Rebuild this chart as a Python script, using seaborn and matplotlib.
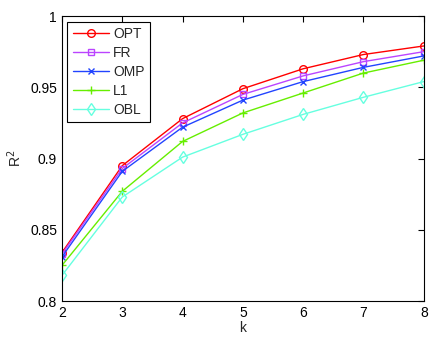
import pandas as pd
import seaborn as sns
import matplotlib.pyplot as plt

# values
k = [2, 3, 4, 5, 6, 7, 8]
opt = [0.834, 0.895, 0.928, 0.949, 0.963, 0.973, 0.979]
fr = [0.833, 0.893, 0.925, 0.945, 0.958, 0.968, 0.975]
omp = [0.831, 0.891, 0.922, 0.941, 0.954, 0.964, 0.972]
l1 = [0.825, 0.877, 0.912, 0.932, 0.946, 0.960, 0.969]
obl = [0.818, 0.873, 0.901, 0.917, 0.931, 0.943, 0.954]

names = ["OPT", "FR", "OMP", "L1", "OBL"]
colors = ["#FF0000", "#BB44FF", "#2244FF", "#66EE00", "#66FFE0"]
markers = ["o", "s", "x", "+", "d"]
msizes = [5.5, 5, 4.5, 6, 6]

sns.set_style("white")
plt.rcParams['font.family'] = ['Liberation Sans', 'DejaVu Sans']

fig = plt.figure(figsize=(4.36, 3.41), dpi=100)
ax = fig.add_axes([0.142, 0.117, 0.830, 0.836])

for name, vals, c, m, ms in zip(names, [opt, fr, omp, l1, obl], colors, markers, msizes):
    df = pd.DataFrame({"k": k, "r2": vals})
    sns.lineplot(data=df, x="k", y="r2", ax=ax, color=c, marker=m, markersize=ms,
                 markerfacecolor="none", markeredgecolor=c, markeredgewidth=1,
                 linewidth=1, label=name)

ax.set_xlim(2, 8)
ax.set_ylim(0.8, 1)
ax.set_xticks(k)
ax.set_yticks([0.8, 0.85, 0.9, 0.95, 1])
ax.set_yticklabels(["0.8", "0.85", "0.9", "0.95", "1"])
ax.tick_params(direction="in", length=4, width=0.8, top=True, right=True,
               labelsize=10, colors="black")
for s in ax.spines.values():
    s.set_color("black")
    s.set_linewidth(0.8)
ax.set_xlabel("k", fontsize=10, labelpad=1)
ax.set_ylabel("R$^2$", fontsize=10)

leg = ax.legend(loc="upper left", fontsize=10, fancybox=False, framealpha=1,
                edgecolor="black", handlelength=2.6, borderaxespad=0.4,
                labelspacing=0.35, handletextpad=0.3)
leg.get_frame().set_linewidth(0.8)

fig.savefig("out.png", dpi=100)
